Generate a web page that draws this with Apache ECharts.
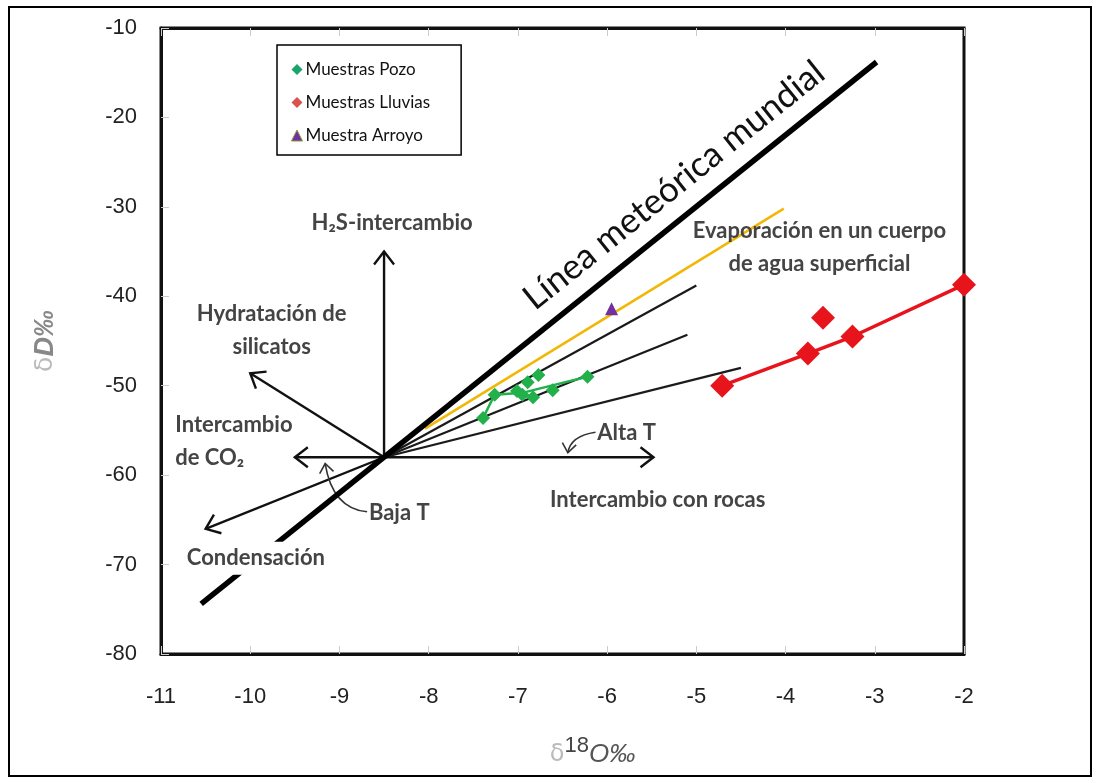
<!DOCTYPE html>
<html>
<head>
<meta charset="utf-8">
<script src="https://cdn.jsdelivr.net/npm/echarts@6/dist/echarts.min.js"></script>
<style>
html, body { margin: 0; padding: 0; background: #fff; }
#chart { width: 1101px; height: 783px; }
</style>
</head>
<body>
<div id="chart"></div>
<script>
// muestras de pozo (verde)
const pozoX = [-7.39, -7.26, -7.01, -6.95, -6.89, -6.77, -6.83, -6.61, -6.22];
const pozoY = [-53.6, -51.0, -50.6, -51.0, -49.6, -48.8, -51.3, -50.5, -49.0];
// linea que une las muestras de pozo
const pozoLineX = [-7.39, -7.26, -6.95, -6.75, -6.22];
const pozoLineY = [-53.6, -51.0, -50.8, -50.3, -49.0];

// muestras de lluvia (rojo)
const lluviaX = [-4.71, -3.75, -3.58, -3.25, -2.0];
const lluviaY = [-50.0, -46.4, -42.4, -44.5, -38.7];
const lluviaLineX = [-4.71, -3.75, -3.25, -2.0];
const lluviaLineY = [-50.0, -46.4, -44.5, -38.7];

// muestra arroyo
const arroyoX = [-5.95];
const arroyoY = [-41.4];

// linea meteorica mundial
const gmwlX = [-10.55, -2.98];
const gmwlY = [-74.4, -13.8];
// linea amarilla
const amarillaX = [-8.04, -4.02];
const amarillaY = [-54.8, -30.2];

// punto de origen de las flechas y lineas de evaporacion
const origen = [-8.5, -58.0];
const evapFinX = [-5.0, -5.1, -4.5];
const evapFinY = [-38.8, -44.3, -48.0];

// flechas rectas (desde el origen)
const flechaX = [-8.5, -10.0, -9.5, -10.5, -5.48];
const flechaY = [-35.0, -48.6, -58.0, -66.0, -58.0];

// flechas curvas: inicio, control, punta
const curvaIni = [[-8.69, -64.1], [-6.13, -55.2]];
const curvaCtrl = [[-9.08, -63.7], [-6.41, -55.6]];
const curvaFin = [[-9.16, -58.7], [-6.44, -57.5]];

// textos
const notas = ['H₂S-intercambio', 'Hydratación de\nsilicatos', 'Intercambio\nde CO₂', 'Baja T', 'Condensación',
  'Alta T', 'Intercambio con rocas', 'Evaporación en un cuerpo\nde agua superficial'];
const notaX = [-8.41, -9.76, -10.84, -8.67, -10.71, -6.11, -6.64, -3.62];
const notaY = [-31.8, -43.8, -56.2, -64.25, -69.3, -55.3, -62.8, -34.55];
const notaAlign = ['center', 'center', 'left', 'left', 'left', 'left', 'left', 'center'];

const tituloLinea = 'Línea meteórica mundial';
const tituloPos = [-5.25, -27.6];

const xTicks = [-11, -2];
const yTicks = [-80, -10];

const zip = (xs, ys) => xs.map((x, i) => [x, ys[i]]);

function chevron(px, py, dx, dy) {
  const len = Math.hypot(dx, dy);
  const ux = dx / len, uy = dy / len;
  const L = 13, W = 10;
  return [[px - L * ux - W * uy, py - L * uy + W * ux], [px, py], [px - L * ux + W * uy, py - L * uy - W * ux]];
}

const chart = echarts.init(document.getElementById('chart'));
const fontTxt = 'Lato, "Open Sans", sans-serif';
const tickStyle = { inside: true, length: 8, lineStyle: { color: '#ccc', width: 1 } };

const option = {
  animation: false,
  backgroundColor: '#fff',
  grid: { left: 161, right: 137, top: 28, bottom: 129, show: true, borderColor: '#111', borderWidth: 3 },
  graphic: [{
    type: 'rect', shape: { x: 9, y: 7, width: 1082, height: 769 },
    style: { fill: null, stroke: '#000', lineWidth: 2 }, silent: true
  }],
  legend: {
    orient: 'vertical', left: 277, top: 45,
    padding: [16, 31, 11, 14],
    borderColor: '#000', borderWidth: 1.5, backgroundColor: '#fff',
    itemWidth: 11, itemHeight: 11, itemGap: 16,
    textStyle: { fontFamily: fontTxt, fontSize: 17, color: '#111', lineHeight: 17, padding: [0, 0, 0, -2] },
    data: [
      { name: 'Muestras Pozo', icon: 'diamond', itemStyle: { color: '#1aa36a' } },
      { name: 'Muestras Lluvias', icon: 'diamond', itemStyle: { color: '#d9534f' } },
      { name: 'Muestra Arroyo', icon: 'triangle', itemStyle: { color: '#7030a0', borderColor: '#8a9a3a', borderWidth: 1 } }
    ]
  },
  xAxis: [{
    type: 'value', min: xTicks[0], max: xTicks[1], interval: 1,
    name: '{a|δ}{b|18}{c|O‰}', nameLocation: 'middle', nameGap: 80,
    nameTextStyle: {
      padding: [0, 0, 0, 60],
      rich: {
        a: { fontFamily: 'DejaVu Sans', fontSize: 24, color: '#bbb', padding: [8, 0, 0, 0] },
        b: { fontFamily: 'Liberation Sans', fontSize: 22, color: '#444', padding: [0, 0, 10, 0] },
        c: { fontFamily: 'Liberation Sans', fontSize: 26, fontStyle: 'italic', color: '#555', padding: [8, 0, 0, 0] }
      }
    },
    axisLine: { lineStyle: { color: '#111', width: 3 } },
    axisTick: tickStyle,
    splitLine: { show: false },
    axisLabel: { fontFamily: 'Liberation Sans', fontSize: 22, color: '#222', margin: 32 }
  }, {
    type: 'value', position: 'top', min: xTicks[0], max: xTicks[1], interval: 1,
    axisLine: { lineStyle: { color: '#111', width: 3 } },
    axisTick: tickStyle,
    splitLine: { show: false },
    axisLabel: { show: false }
  }],
  yAxis: {
    type: 'value', min: yTicks[0], max: yTicks[1], interval: 10,
    name: '{a|δ}{b|D‰}', nameLocation: 'middle', nameGap: 102,
    nameTextStyle: {
      rich: {
        a: { fontFamily: 'DejaVu Sans', fontSize: 25, color: '#bbb' },
        b: { fontFamily: 'Liberation Sans', fontSize: 27, fontStyle: 'italic', fontWeight: 'bold', color: '#888' }
      }
    },
    axisLine: { lineStyle: { color: '#111', width: 3 } },
    axisTick: tickStyle,
    splitLine: { show: false },
    axisLabel: { fontFamily: 'Liberation Sans', fontSize: 22, color: '#222', margin: 24 }
  },
  series: [
    // lineas de evaporacion desde el origen
    ...evapFinX.map((x, i) => ({
      type: 'line', data: [origen, [x, evapFinY[i]]], showSymbol: false, silent: true,
      lineStyle: { color: '#1a1a1a', width: 2.2 }, z: 2
    })),
    {
      type: 'line', data: zip(amarillaX, amarillaY), showSymbol: false, silent: true,
      lineStyle: { color: '#f2b705', width: 2.5 }, z: 3
    },
    {
      type: 'line', data: zip(gmwlX, gmwlY), showSymbol: false, silent: true,
      lineStyle: { color: '#000', width: 5.5 }, z: 4
    },
    {
      type: 'custom', silent: true, z: 4,
      data: flechaX.map((x, i) => [origen[0], origen[1], x, flechaY[i]]),
      renderItem: (params, api) => {
        const s = api.coord([api.value(0), api.value(1)]);
        const e = api.coord([api.value(2), api.value(3)]);
        const st = { stroke: '#111', lineWidth: 2.4, fill: null };
        return {
          type: 'group', children: [
            { type: 'line', shape: { x1: s[0], y1: s[1], x2: e[0], y2: e[1] }, style: st },
            { type: 'polyline', shape: { points: chevron(e[0], e[1], e[0] - s[0], e[1] - s[1]) }, style: st }
          ]
        };
      }
    },
    {
      type: 'custom', silent: true, z: 4,
      data: curvaIni.map((p, i) => [p[0], p[1], curvaCtrl[i][0], curvaCtrl[i][1], curvaFin[i][0], curvaFin[i][1]]),
      renderItem: (params, api) => {
        const s = api.coord([api.value(0), api.value(1)]);
        const c = api.coord([api.value(2), api.value(3)]);
        const e = api.coord([api.value(4), api.value(5)]);
        const st = { stroke: '#333', lineWidth: 1.6, fill: null };
        const head = chevron(e[0], e[1], e[0] - c[0], e[1] - c[1]).map(p => [
          e[0] + (p[0] - e[0]) * 0.7, e[1] + (p[1] - e[1]) * 0.7]);
        return {
          type: 'group', children: [
            { type: 'bezierCurve', shape: { x1: s[0], y1: s[1], cpx1: c[0], cpy1: c[1], x2: e[0], y2: e[1] }, style: st },
            { type: 'polyline', shape: { points: head }, style: st }
          ]
        };
      }
    },
    {
      type: 'line', data: zip(pozoLineX, pozoLineY), showSymbol: false, silent: true,
      lineStyle: { color: '#22b04b', width: 2.5 }, z: 5
    },
    {
      type: 'line', data: zip(lluviaLineX, lluviaLineY), showSymbol: false, silent: true,
      lineStyle: { color: '#e8141c', width: 3.5 }, z: 5
    },
    {
      name: 'Muestras Pozo', type: 'scatter', data: zip(pozoX, pozoY), symbol: 'diamond',
      symbolSize: 14, itemStyle: { color: '#22b04b', opacity: 1 }, z: 6
    },
    {
      name: 'Muestras Lluvias', type: 'scatter', data: zip(lluviaX, lluviaY), symbol: 'diamond',
      symbolSize: 24, itemStyle: { color: '#e8141c', opacity: 1 }, z: 6
    },
    {
      name: 'Muestra Arroyo', type: 'scatter', data: zip(arroyoX, arroyoY), symbol: 'triangle',
      symbolSize: 13, itemStyle: { color: '#7030a0', opacity: 1 }, z: 6
    },
    // textos de anotacion
    {
      type: 'custom', silent: true, z: 7,
      data: notaX.map((x, i) => [x, notaY[i], i]),
      renderItem: (params, api) => {
        const p = api.coord([api.value(0), api.value(1)]);
        const i = api.value(2);
        return {
          type: 'text', x: p[0], y: p[1],
          style: {
            text: notas[i], align: notaAlign[i], verticalAlign: 'middle',
            fontFamily: fontTxt, fontSize: 22, fontWeight: 'bold', lineHeight: 33, fill: '#444',
            backgroundColor: i === 4 ? '#fff' : null
          }
        };
      }
    },
    {
      type: 'custom', silent: true, z: 7,
      data: [[tituloPos[0], tituloPos[1]]],
      renderItem: (params, api) => {
        const p = api.coord([api.value(0), api.value(1)]);
        const a = api.coord([gmwlX[0], gmwlY[0]]);
        const b = api.coord([gmwlX[1], gmwlY[1]]);
        return {
          type: 'text', x: p[0], y: p[1], rotation: Math.atan2(a[1] - b[1], b[0] - a[0]),
          style: {
            text: tituloLinea, align: 'center', verticalAlign: 'middle',
            fontFamily: fontTxt, fontSize: 35, fill: '#111'
          }
        };
      }
    }
  ]
};

chart.setOption(option);
</script>
</body>
</html>
